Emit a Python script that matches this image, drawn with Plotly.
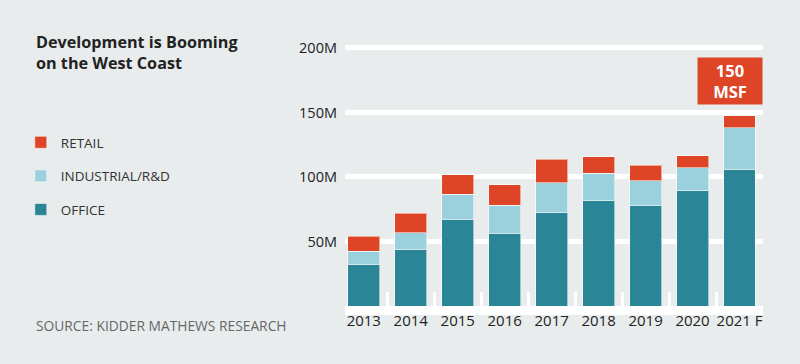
import plotly.graph_objects as go

years = ["2013", "2014", "2015", "2016", "2017", "2018", "2019", "2020", "2021 F"]
office = [32.3, 43.9, 67.1, 56.2, 72.5, 81.8, 77.6, 89.2, 106.0]
industrial = [10.3, 12.8, 19.6, 21.7, 22.9, 20.9, 19.4, 18.1, 32.0]
retail = [11.3, 15.3, 15.2, 16.0, 18.4, 12.9, 12.1, 9.0, 9.3]
y_tickvals = [50, 100, 150, 200]
y_ticktext = ["50M", "100M", "150M", "200M"]
title_lines = ["Development is Booming", "on the West Coast"]
callout_text = "<b>150<br>MSF</b>"
callout_y = 174.5

scale = 1e6
C_OFFICE = "#2a8697"
C_IND = "#9bd1dc"
C_RETAIL = "#dd4526"
BG = "#e8eced"
FONT = "Open Sans"

fig = go.Figure()
for name, vals, col, grp, rank in [
    ("OFFICE", office, C_OFFICE, "g3", 3),
    ("INDUSTRIAL/R&D", industrial, C_IND, "g2", 2),
    ("RETAIL", retail, C_RETAIL, "g1", 1),
]:
    fig.add_trace(go.Bar(
        x=years, y=[v * scale for v in vals], name=name,
        marker=dict(color=col, line=dict(color="rgba(255,255,255,0.55)", width=1)),
        legendgroup=grp, legendrank=rank,
    ))

W, H = 800, 364
ml, mr, mt, mb = 345, 37, 35, 58
pw = W - ml - mr
ph = H - mt - mb

def px_x(px):
    return (px - ml) / pw

def px_y(py):
    return (H - mb - py) / ph

annotations = [
    dict(xref="paper", yref="paper", x=px_x(34), y=px_y(52),
         xanchor="left", yanchor="middle", align="left", showarrow=False,
         text="<b>" + "<br>".join(title_lines) + "</b>",
         font=dict(size=16.2, color="#222", family=FONT)),
    dict(xref="paper", yref="paper", x=px_x(34), y=px_y(325),
         xanchor="left", yanchor="middle", align="left", showarrow=False,
         text="SOURCE: KIDDER MATHEWS RESEARCH",
         font=dict(size=13.8, color="#666", family=FONT)),
    dict(xref="paper", yref="y", x=1, y=callout_y * scale,
         xanchor="right", yanchor="middle", showarrow=False,
         text=callout_text, bgcolor=C_RETAIL, width=60, height=42,
         borderpad=2, align="center",
         font=dict(size=16.5, color="white", family=FONT)),
]

fig.update_layout(
    width=W, height=H,
    margin=dict(l=ml, r=mr, t=mt, b=mb, pad=0, autoexpand=False),
    paper_bgcolor=BG, plot_bgcolor=BG,
    barmode="stack", bargap=0.32,
    font=dict(family=FONT, color="#222"),
    showlegend=True,
    legend=dict(
        xref="container", yref="container",
        x=0.026, y=1 - 127 / H, xanchor="left", yanchor="top",
        traceorder="grouped", tracegroupgap=13,
        font=dict(size=13.5, color="#333", family=FONT),
        bgcolor="rgba(0,0,0,0)", itemwidth=30,
    ),
    xaxis=dict(
        range=[-0.4, 8.5], type="category", automargin=False, tickangle=0,
        showline=True, linecolor="white", linewidth=9,
        ticks="inside", tickson="boundaries", ticklen=14, tickwidth=2.5, tickcolor="white",
        ticklabelstandoff=-7,
        tickfont=dict(size=15, color="#222", family=FONT),
        showgrid=False, fixedrange=True,
    ),
    yaxis=dict(
        range=[0, 210 * scale], automargin=False,
        tickvals=[v * scale for v in y_tickvals], ticktext=y_ticktext,
        showgrid=True, gridcolor="white", gridwidth=5,
        zeroline=False, showline=False, ticks="",
        ticklabelstandoff=7,
        tickfont=dict(size=14.5, color="#222", family=FONT),
        layer="below traces",
    ),
    annotations=annotations,
)

fig.write_html(
    "out.html",
    config={"displayModeBar": False},
    post_script="document.body.style.margin='0';document.body.style.background='#e8eced';",
)
